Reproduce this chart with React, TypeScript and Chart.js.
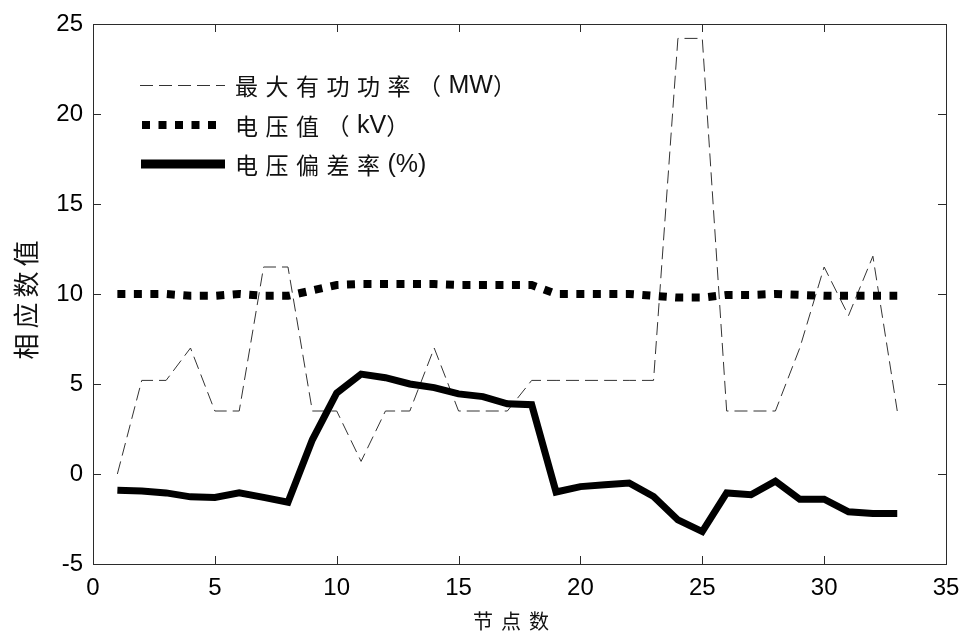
import React, { useEffect, useRef } from "react";
import { Chart, registerables } from "chart.js";

Chart.register(...registerables);

// ---- data ----
const nodes = [1, 2, 3, 4, 5, 6, 7, 8, 9, 10, 11, 12, 13, 14, 15, 16, 17, 18, 19, 20, 21, 22, 23, 24, 25, 26, 27, 28, 29, 30, 31, 32, 33];
const maxPower = [0.0, 5.2, 5.2, 7.0, 3.5, 3.5, 11.5, 11.5, 3.5, 3.5, 0.7, 3.5, 3.5, 7.0, 3.5, 3.5, 3.5, 5.2, 5.2, 5.2, 5.2, 5.2, 5.2, 24.2, 24.2, 3.5, 3.5, 3.5, 7.0, 11.5, 8.8, 12.1, 3.5];
const voltage = [10.0, 10.0, 10.0, 9.9, 9.9, 10.0, 9.9, 9.9, 10.2, 10.5, 10.55, 10.55, 10.55, 10.55, 10.5, 10.5, 10.5, 10.5, 10.0, 10.0, 10.0, 10.0, 9.9, 9.8, 9.8, 9.95, 9.95, 10.0, 9.95, 9.9, 9.9, 9.9, 9.9];
const deviation = [-0.9, -0.95, -1.05, -1.27, -1.3, -1.05, -1.3, -1.57, 1.9, 4.5, 5.55, 5.35, 5.0, 4.8, 4.45, 4.3, 3.9, 3.85, -1.0, -0.7, -0.6, -0.5, -1.25, -2.55, -3.2, -1.05, -1.15, -0.4, -1.4, -1.4, -2.1, -2.2, -2.2];
const xTicks = [0, 5, 10, 15, 20, 25, 30, 35];
const yTicks = [-5, 0, 5, 10, 15, 20, 25];
const seriesNames = ["最大有功功率（MW）", "电压值（kV）", "电压偏差率(%)"];
const xTitle = "节点数";
const yTitle = "相应数值";

const toPoints = (vals: number[]) => vals.map((v, i) => ({ x: nodes[i], y: v }));

const isCJK = (ch: string) => ch.charCodeAt(0) >= 0x2e80;

function spacedWidth(ctx: CanvasRenderingContext2D, text: string, spacing: number) {
  let w = 0;
  for (const ch of text) w += ctx.measureText(ch).width + (isCJK(ch) ? spacing : 0);
  return w;
}
function drawSpaced(ctx: CanvasRenderingContext2D, text: string, x: number, y: number, spacing: number) {
  let cx = x;
  for (const ch of text) {
    ctx.fillText(ch, cx, y);
    cx += ctx.measureText(ch).width + (isCJK(ch) ? spacing : 0);
  }
}
function drawMixed(ctx: CanvasRenderingContext2D, text: string, x: number, y: number, spacing: number, cjkFont: string, latinFont: string) {
  let cx = x;
  for (const ch of text) {
    const cjk = isCJK(ch);
    ctx.font = cjk ? cjkFont : latinFont;
    ctx.fillText(ch, cx, y);
    cx += ctx.measureText(ch).width + (cjk ? spacing : 0);
  }
}

const decorPlugin = {
  id: "decor",
  afterDraw(chart: any) {
    const ctx: CanvasRenderingContext2D = chart.ctx;
    const { left, right, top, bottom } = chart.chartArea;
    const xs = chart.scales.x;
    const ys = chart.scales.y;
    ctx.save();
    // box
    ctx.strokeStyle = "#2b2b2b";
    ctx.lineWidth = 1;
    ctx.setLineDash([]);
    ctx.strokeRect(Math.round(left) + 0.5, Math.round(top) + 0.5, Math.round(right - left), Math.round(bottom - top));
    // inward ticks
    const tl = 8;
    ctx.beginPath();
    for (const t of xTicks) {
      const px = Math.round(xs.getPixelForValue(t)) + 0.5;
      ctx.moveTo(px, bottom);
      ctx.lineTo(px, bottom - tl);
      ctx.moveTo(px, top);
      ctx.lineTo(px, top + tl);
    }
    for (const t of yTicks) {
      const py = Math.round(ys.getPixelForValue(t)) + 0.5;
      ctx.moveTo(left, py);
      ctx.lineTo(left + tl, py);
      ctx.moveTo(right, py);
      ctx.lineTo(right - tl, py);
    }
    ctx.stroke();

    // legend
    const rows = [85, 125, 164];
    const lx0 = 140;
    const lx1 = 225;
    ctx.strokeStyle = "#333";
    ctx.lineWidth = 1;
    ctx.setLineDash([13, 6]);
    ctx.beginPath();
    ctx.moveTo(lx0, rows[0] + 0.5);
    ctx.lineTo(lx1, rows[0] + 0.5);
    ctx.stroke();
    ctx.strokeStyle = "#000";
    ctx.lineWidth = 8;
    ctx.lineCap = "butt";
    ctx.setLineDash([8, 8.5]);
    ctx.beginPath();
    ctx.moveTo(lx0 + 2, rows[1]);
    ctx.lineTo(lx1 - 5, rows[1]);
    ctx.stroke();
    ctx.setLineDash([]);
    ctx.lineWidth = 9;
    ctx.beginPath();
    ctx.moveTo(lx0 + 1, rows[2]);
    ctx.lineTo(lx1, rows[2]);
    ctx.stroke();

    ctx.fillStyle = "#111";
    ctx.textBaseline = "middle";
    ctx.textAlign = "left";
    seriesNames.forEach((name, i) =>
      drawMixed(ctx, name, 235, rows[i] + 1, 7.5, '23px "Noto Sans CJK SC"', '25px "Liberation Sans"')
    );

    // x title
    ctx.font = '20px "Noto Sans CJK SC"';
    ctx.textBaseline = "middle";
    const xw = spacedWidth(ctx, xTitle, 8) - 8;
    drawSpaced(ctx, xTitle, 511 - xw / 2, 621, 8);

    // y title
    ctx.save();
    ctx.translate(26, 300);
    ctx.rotate(-Math.PI / 2);
    ctx.font = '26px "Noto Sans CJK SC"';
    const yw = spacedWidth(ctx, yTitle, 5) - 5;
    drawSpaced(ctx, yTitle, -yw / 2, 0, 5);
    ctx.restore();

    ctx.restore();
  },
};

export default function App() {
  const ref = useRef<HTMLCanvasElement>(null);
  useEffect(() => {
    document.body.style.margin = "0";
    const canvas = ref.current!;
    const chart = new Chart(canvas, {
      type: "line",
      data: {
        datasets: [
          {
            label: seriesNames[2],
            data: toPoints(deviation),
            borderColor: "#000",
            borderWidth: 7,
            borderJoinStyle: "miter",
            pointRadius: 0,
            tension: 0,
            order: 1,
          },
          {
            label: seriesNames[1],
            data: toPoints(voltage),
            borderColor: "#000",
            borderWidth: 8,
            borderDash: [8, 8.5],
            borderCapStyle: "butt",
            pointRadius: 0,
            tension: 0,
            order: 2,
          },
          {
            label: seriesNames[0],
            data: toPoints(maxPower),
            borderColor: "#333",
            borderWidth: 1,
            borderDash: [13, 6],
            pointRadius: 0,
            tension: 0,
            order: 3,
          },
        ],
      },
      options: {
        animation: false,
        responsive: false,
        devicePixelRatio: 1,
        layout: { padding: { top: 24, right: 15, left: 0, bottom: 0 } },
        plugins: { legend: { display: false }, tooltip: { enabled: false } },
        scales: {
          x: {
            type: "linear",
            min: 0,
            max: 35,
            grid: { display: false, drawTicks: false },
            border: { display: false },
            afterBuildTicks: (s: any) => {
              s.ticks = xTicks.map((v) => ({ value: v }));
            },
            afterFit: (s: any) => {
              s.height = 68;
              s.paddingLeft = 0;
              s.paddingRight = 0;
            },
            ticks: {
              padding: 10,
              maxRotation: 0,
              autoSkip: false,
              color: "#000",
              font: { family: '"Liberation Sans"', size: 24 },
            },
          },
          y: {
            type: "linear",
            min: -5,
            max: 25,
            grid: { display: false, drawTicks: false },
            border: { display: false },
            afterBuildTicks: (s: any) => {
              s.ticks = yTicks.map((v) => ({ value: v }));
            },
            afterFit: (s: any) => {
              s.width = 93;
              s.paddingTop = 0;
              s.paddingBottom = 0;
            },
            ticks: {
              padding: 10,
              autoSkip: false,
              color: "#000",
              font: { family: '"Liberation Sans"', size: 24 },
            },
          },
        },
      },
      plugins: [decorPlugin],
    } as any);
    return () => chart.destroy();
  }, []);
  return (
    <div style={{ width: 961, height: 632, background: "#fff" }}>
      <canvas ref={ref} width={961} height={632} style={{ display: "block" }} />
    </div>
  );
}
